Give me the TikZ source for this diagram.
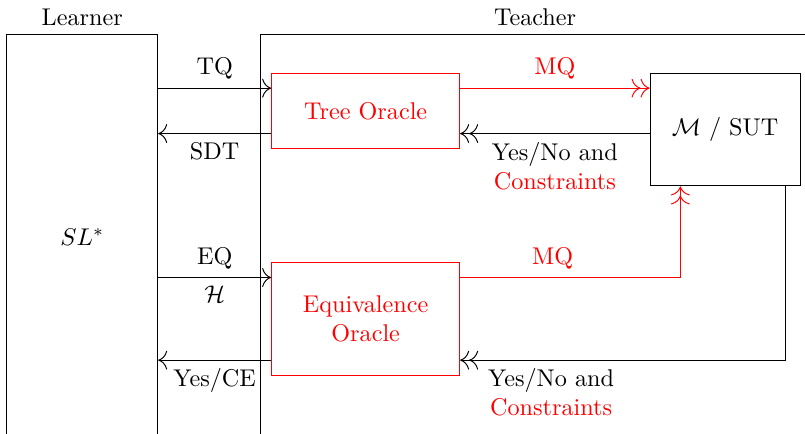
\documentclass[tikz,border=0pt]{standalone}
\usetikzlibrary{positioning, arrows.meta}

\begin{document}
\begin{tikzpicture}[
    >={To[scale=1.5]},
    oracle/.style={draw=red, text=red, align=center, minimum width=2.73cm},
    side/.style={draw, minimum height=5.87cm}
]
    \useasboundingbox (0,0) rectangle (11.69,6.29);

    \node[side, minimum width=2.19cm, label=above:Learner] (learner) at (1.195,2.85) {$SL^*$};
    \node[side, minimum width=7.98cm, label=above:Teacher] (teacher) at (7.77,2.85) {};

    \node[oracle, minimum height=1.09cm] (tree) at (5.31,4.68) {Tree Oracle};
    \node[oracle, minimum height=1.64cm] (equiv) at (5.31,1.66) {Equivalence\\Oracle};
    \node[draw, minimum width=2.18cm, minimum height=1.64cm] (sut) at (10.53,4.41) {$\mathcal{M}$ / SUT};

    \coordinate (treeup) at ([yshift=0.33cm]tree.west);
    \coordinate (treedown) at ([yshift=-0.33cm]tree.west);
    \coordinate (equp) at ([yshift=0.6cm]equiv.west);
    \coordinate (eqdown) at ([yshift=-0.6cm]equiv.west);
    \coordinate (sutin) at ([xshift=-0.65cm]sut.south);
    \coordinate (sutout) at ([xshift=0.87cm]sut.south);

    \draw[->] (learner.east |- treeup) -- node[above] {TQ} (treeup);
    \draw[->] (treedown) -- node[below] {SDT} (learner.east |- treedown);
    \draw[->>, red] (tree.east |- treeup) -- node[above] {MQ} (sut.west |- treeup);
    \draw[->>] (sut.west |- treedown) -- node[below, align=center] {Yes/No and\\\textcolor{red}{Constraints}} (tree.east |- treedown);

    \draw[->] (learner.east |- equp) -- node[above] {EQ} node[below] {$\mathcal{H}$} (equp);
    \draw[->] (eqdown) -- node[below] {Yes/CE} (learner.east |- eqdown);
    \draw[->>, red] (equiv.east |- equp) -- node[pos=0.42, above] {MQ} (sutin |- equp) -- (sutin);
    \draw[->>] (sutout) -- (sutout |- eqdown) -- node[pos=0.72, below, align=center] {Yes/No and\\\textcolor{red}{Constraints}} (equiv.east |- eqdown);

\end{tikzpicture}
\end{document}
